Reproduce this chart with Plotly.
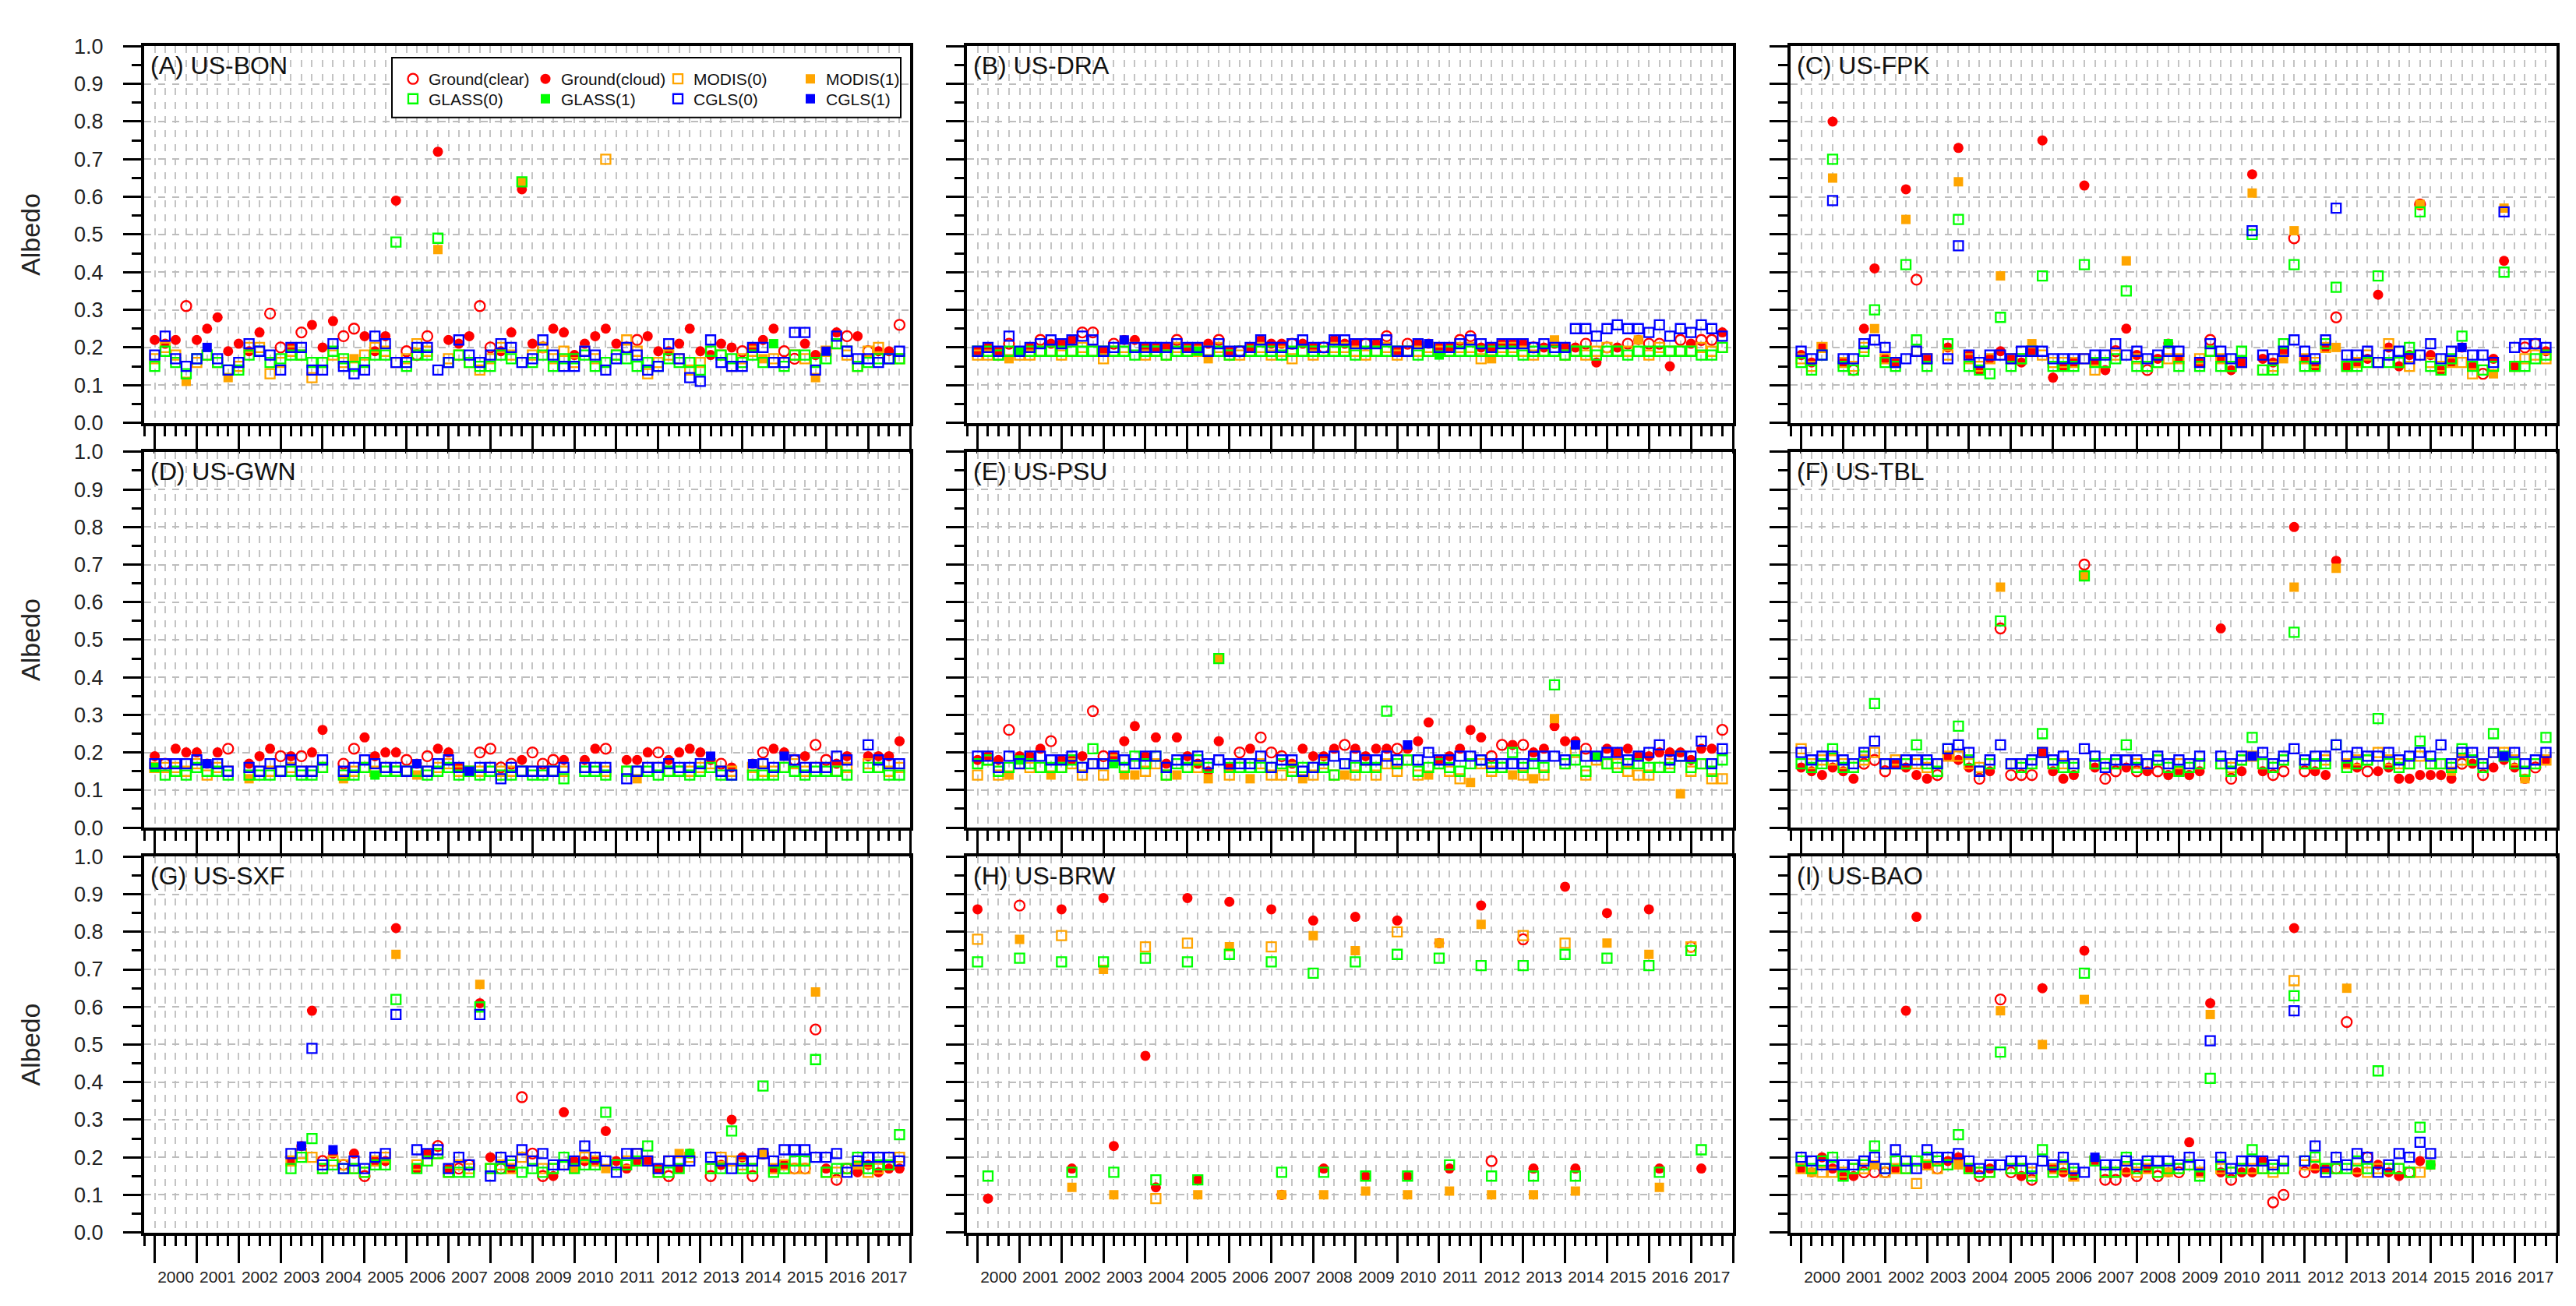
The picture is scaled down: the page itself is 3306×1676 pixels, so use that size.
import plotly.graph_objects as go
import pandas as pd

N = None
# ---- values are albedo x 100, one value per quarter (2000Q1 .. 2017Q4) ----
# index lists: *_clear = quarters where the ground value is clear-sky (others cloudy)
#              *_filled = quarters where the satellite value has QA flag 1 (others flag 0)

A_ground = [22,21,22,31,22,25,28,19,21,19, 24,29,20,20,24,26,20,27,23,25, 23,19,23,59,19,18,23,72,22,21,
            23,31,20,19,24,62,21,20,25,24, 18,21,23,25,21,20,22,23,19,19, 21,25,19,18,21,20,19,20,22,25,
            19,17,21,18,19,24,23,23,19,19, 19,26]
A_ground_clear = [3,11,12,14,18,19,24,25,26,31,32,37,45,46,56,60,61,66,68,71]
A_modis = [17,20,18,11,16,18,16,12,15,20, 20,13,16,19,18,12,16,18,16,17, 18,20,19,16,17,21,19,46,17,18,
           16,14,17,20,18,64,18,20,17,19, 16,19,17,70,18,22,19,13,16,18, 17,14,16,19,18,15,17,19,17,17,
           16,18,17,12,19,21,18,15,19,20, 17,17]
A_modis_filled = [3,7,19,27,35,58,63]
A_glass = [15,19,16,13,17,18,16,14,14,18, 19,16,17,18,18,16,16,19,17,15, 16,18,18,48,15,18,18,49,16,18,
           16,15,15,18,17,64,16,18,15,17, 17,18,15,16,18,17,15,16,15,17, 16,16,14,19,18,17,16,18,16,21,
           15,18,18,16,17,21,19,15,16,17, 17,17]
A_glass_filled = [59]
A_cgls = [18,23,17,15,17,20,17,14,16,21, 19,18,14,20,20,14,14,21,15,13, 14,23,21,16,16,20,20,14,16,22,
          18,16,18,21,20,16,17,22,18,15, 15,19,18,14,17,20,18,14,15,21, 17,12,11,22,16,15,15,20,20,16,
          16,24,24,14,19,23,19,17,17,16, 17,19]
A_cgls_filled = [5,64]

B_ground = [19,20,19,21,19,20,22,21,21,22, 24,24,19,21,22,22,20,20,20,22, 20,20,21,22,19,19,20,22,21,21,
            21,21,20,20,22,21,21,21,21,23, 19,21,21,21,20,20,22,23,20,20, 21,21,21,20,20,21,20,20,21,16,
            20,20,21,22,21,21,15,22,21,22, 22,24]
B_ground_clear = [3,6,10,11,13,19,23,25,30,33,37,39,41,46,47,53,58,60,62,64,65,67,69,70]
B_modis = [18,18,18,17,18,18,19,19,18,19, 20,19,17,19,20,20,18,19,18,20, 19,19,17,20,18,18,19,20,18,19,
           17,19,18,19,20,20,19,18,19,20, 18,19,19,20,19,19,20,20,17,17, 20,20,19,18,19,22,18,19,18,19,
           20,19,19,22,18,20,19,19,19,20, 19,20]
B_modis_filled = [3,22,49,55,63]
B_glass = [19,19,18,19,19,19,19,19,19,19, 19,19,19,19,19,18,19,19,18,19, 19,19,19,19,18,19,19,19,19,18,
           19,19,19,19,19,19,18,19,19,19, 19,19,18,19,18,19,19,19,19,19, 19,19,18,19,19,19,18,19,19,18,
           19,19,18,19,19,19,19,19,19,18, 18,20]
B_glass_filled = [4,21,44]
B_cgls = [19,20,19,23,19,20,21,22,21,22, 23,22,19,20,22,20,20,20,20,21, 20,20,19,21,19,19,20,22,20,20,
          21,22,20,20,22,22,21,21,21,22, 19,19,21,21,20,20,21,22,21,20, 21,21,21,20,21,20,20,25,25,23,
          25,26,25,25,24,26,23,25,24,26, 25,23]
B_cgls_filled = [14,43]

C_ground = [18,16,20,80,16,14,25,41,17,16, 62,38,17,N,20,73,18,14,17,19, 17,16,19,75,12,15,16,63,16,14,
            19,25,18,14,17,21,17,N,16,22, 17,14,16,66,17,16,19,49,17,15, 20,28,15,16,17,34,20,15,18,58,
            18,14,16,20,15,13,17,43,15,20, 21,19]
C_ground_clear = [5,11,30,33,39,47,51,59,65,69,70]
C_modis = [17,15,20,65,16,15,20,25,17,16, 54,19,17,N,18,64,17,15,17,39, 17,17,21,18,16,16,16,17,14,16,
           18,43,17,15,16,17,17,N,17,19, 17,15,16,61,14,15,17,51,17,16, 20,20,15,16,18,16,21,16,15,58,
           16,15,16,16,13,14,13,57,15,17, 18,17]
C_modis_filled = [3,7,10,15,19,22,31,43,46,47,51,59,66,67]
C_glass = [16,14,18,70,15,14,19,30,16,15, 42,22,15,N,21,54,15,14,13,28, 15,17,19,39,15,15,15,42,16,16,
           17,35,15,15,16,21,15,N,15,19, 15,15,19,50,14,14,21,42,15,15, 21,36,15,15,16,39,16,16,20,56,
           15,14,17,23,15,14,15,40,15,15, 17,18]
C_glass_filled = [35]
C_cgls = [19,17,18,59,17,17,21,22,20,16, 17,19,17,N,17,47,18,16,18,18, 17,19,19,19,17,17,17,17,18,18,
          21,18,19,17,18,19,19,N,16,21, 19,17,16,51,18,17,19,22,19,17, 22,57,18,18,19,16,18,19,17,18,
          21,17,19,20,18,18,16,56,20,21, 21,20]
C_cgls_filled = [63]

D_ground = [19,17,21,20,20,17,20,21,N,17, 19,21,19,19,19,20,26,N,17,21, 24,19,20,20,18,17,19,21,20,16,
            15,20,21,16,17,18,20,17,18,18, N,18,21,21,N,18,18,20,20,18, 20,21,20,18,17,16,N,17,20,21,
            20,18,19,22,18,17,19,N,19,19, 19,23]
D_ground_clear = [1,7,12,14,18,19,24,26,31,32,33,34,36,37,38,43,48,54,58,61,63,64]
D_modis = [16,16,16,15,17,14,16,15,N,13, 15,15,15,16,15,15,16,N,13,15, 16,15,16,15,15,14,15,16,17,15,
           15,15,16,15,15,15,15,15,15,15, N,16,16,15,N,15,13,16,16,15, 15,15,16,17,15,15,N,16,15,15,
           16,17,15,16,16,15,16,N,17,16, 15,16]
D_modis_filled = [9,18,25,46]
D_glass = [16,14,15,14,16,15,15,14,N,14, 14,14,15,15,14,14,16,N,14,14, 16,14,15,15,15,15,14,15,16,14,
           15,14,15,14,14,15,14,14,15,13, N,15,15,14,N,15,15,15,14,15, 15,14,15,16,14,14,N,14,14,14,
           16,15,14,15,15,15,14,N,16,16, 14,14]
D_glass_filled = [0,21]
D_cgls = [17,17,17,17,18,17,17,15,N,16, 15,17,15,18,15,15,18,N,15,16, 18,17,16,16,15,17,15,17,18,16,
          15,16,16,13,16,15,15,15,15,16, N,16,16,16,N,13,15,16,16,17, 16,16,17,19,15,14,N,17,17,16,
          19,18,16,16,16,19,18,N,22,18, 17,17]
D_cgls_filled = [5,25,30,53,57,60]

E_ground = [18,19,18,26,19,19,21,23,18,18, 19,31,19,19,23,27,19,24,17,24, 19,17,15,23,16,20,21,24,20,19,
            17,21,19,19,21,22,21,19,21,21, 21,21,23,28,18,19,21,26,24,19, 22,22,22,20,21,27,23,23,21,19,
            21,20,21,19,19,20,20,20,18,21, 21,26]
E_ground_clear = [3,7,11,12,25,27,28,29,35,40,49,50,52,58,71]
E_modis = [14,18,14,14,17,16,16,14,16,17, 14,17,14,18,14,14,15,17,14,14, 16,16,13,45,14,16,13,17,14,14,
           16,13,14,17,14,14,14,18,14,17, 15,18,14,14,17,15,13,12,17,15, 16,14,14,13,14,29,17,20,14,18,
           17,17,15,14,14,16,17,9,15,17, 13,13]
E_modis_filled = [3,7,14,15,19,22,23,26,31,35,43,47,51,53,55,67]
E_glass = [17,18,15,16,18,17,16,16,16,18, 16,21,17,17,16,19,17,19,14,17, 16,18,16,45,16,16,16,16,16,17,
           15,16,16,16,14,17,16,16,16,31, 17,18,15,16,17,16,15,17,18,16, 16,20,16,17,16,38,17,18,15,19,
           17,16,17,17,16,16,16,19,16,17, 15,18]
E_glass_filled = [4,13,59]
E_cgls = [19,19,16,19,17,19,19,18,18,19, 16,17,17,19,18,17,19,19,16,18, 18,19,17,18,17,17,17,19,16,18,
          18,15,16,18,19,17,19,18,18,19, 18,22,18,20,18,18,19,19,18,17, 17,17,17,19,19,19,18,22,19,19,
          20,20,18,19,20,22,18,19,19,23, 17,21]
E_cgls_filled = [41,57]

F_ground = [16,15,14,16,15,13,17,18,15,17, 16,14,13,14,19,18,16,13,15,53, 14,14,14,20,15,13,14,70,16,13,
            15,16,15,15,15,14,15,14,15,N, 53,13,15,19,15,14,15,80,15,15, 14,71,17,16,15,15,16,13,13,14,
            14,14,13,17,17,14,16,18,16,13, 16,18]
F_ground_clear = [6,7,8,13,17,19,20,21,22,27,29,30,32,34,41,45,46,48,54,63,65,70]
F_modis = [21,17,18,18,17,16,18,20,17,18, 17,17,16,17,19,19,17,16,17,64, 17,17,17,20,17,17,17,67,17,17,
           17,18,17,17,18,17,17,17,17,N, 17,16,18,19,17,16,18,64,17,17, 18,69,17,18,18,20,18,17,17,19,
           17,17,15,18,18,17,20,20,18,13, 17,18]
F_modis_filled = [19,27,47,51,62,69]
F_glass = [17,16,17,21,16,16,19,33,17,17, 17,22,17,15,21,27,18,15,17,55, 17,16,17,25,17,16,16,67,17,17,
           17,22,16,17,18,16,15,16,17,N, 17,15,18,24,17,16,18,52,17,17, 17,22,16,17,18,29,17,16,17,23,
           17,17,16,21,18,16,25,19,17,15, 17,24]
F_glass_filled = []
F_cgls = [20,18,19,19,18,17,20,23,17,17, 18,18,18,17,21,22,20,15,18,22, 17,17,18,20,18,19,17,21,19,16,
          18,18,18,17,19,17,18,17,19,N, 19,17,19,19,20,17,19,21,18,19, 19,22,19,20,19,19,20,18,19,20,
          19,22,17,20,20,17,20,19,20,17, 18,20]
F_cgls_filled = [43,67]

G_ground = [N,N,N,N,N,N,N,N,N,N, N,N,N,19,23,59,19,21,18,21, 15,19,19,81,N,17,21,23,17,17,
            18,61,20,17,17,36,21,15,15,32, 19,19,19,27,19,17,19,19,17,15, 17,21,N,15,18,30,20,15,21,17,
            18,17,17,54,17,14,17,16,18,16, 17,17]
G_ground_clear = [16,18,20,27,29,30,33,35,36,37,49,53,57,58,61,62,63,65,66]
G_modis = [N,N,N,N,N,N,N,N,N,N, N,N,N,19,21,20,17,19,18,17, 16,19,20,74,N,18,19,21,16,18,
           17,66,17,18,17,20,19,17,17,18, 17,20,19,17,18,19,21,19,16,19, 21,20,N,17,20,19,18,17,21,17,
           18,17,17,64,16,16,17,18,16,17, 20,20]
G_modis_filled = [23,31,40,43,50,58,63,67]
G_glass = [N,N,N,N,N,N,N,N,N,N, N,N,N,17,20,25,17,18,17,17, 16,18,18,62,N,17,19,21,16,16,
           16,60,17,17,18,16,17,16,17,20, 17,18,18,32,18,18,19,23,16,16, 17,21,N,17,17,27,17,17,39,16,
           17,19,19,46,16,17,17,20,17,18, 18,26]
G_glass_filled = [51]
G_cgls = [N,N,N,N,N,N,N,N,N,N, N,N,N,21,23,49,18,22,17,19, 17,20,21,58,N,22,21,22,17,20,
          18,58,15,20,19,22,19,21,18,18, 19,23,20,19,16,21,21,19,17,19, 19,19,N,20,19,17,19,19,21,19,
          22,22,22,20,20,21,16,19,20,20, 20,19]
G_cgls_filled = [14,17]

H_ground = [86,9,N,N,87,N,N,N,86,17, N,N,89,23,N,N,47,12,N,N, 89,14,N,N,88,N,N,N,86,10,
            N,N,83,17,N,N,84,15,N,N, 83,15,N,N,77,17,N,N,87,19, N,N,78,17,N,N,92,17,N,N,
            85,N,N,N,86,17,N,N,76,17, N,N]
H_ground_clear = [4,49,52,68]
H_modis = [78,N,N,N,78,N,N,N,79,12, N,N,70,10,N,N,76,9,N,N, 77,10,N,N,76,N,N,N,76,10,
           N,N,79,10,N,N,75,11,N,N, 80,10,N,N,77,11,N,N,82,10, N,N,79,10,N,N,77,11,N,N,
           77,N,N,N,74,12,N,N,76,N, N,N]
H_modis_filled = [4,9,12,13,21,24,29,32,33,36,37,41,44,45,48,49,53,57,60,64,65]
H_glass = [72,15,N,N,73,N,N,N,72,16, N,N,72,16,N,N,73,14,N,N, 72,14,N,N,74,N,N,N,72,16,
           N,N,69,16,N,N,72,15,N,N, 74,15,N,N,73,18,N,N,71,15, N,N,71,15,N,N,74,15,N,N,
           73,N,N,N,71,16,N,N,75,22, N,N]
H_glass_filled = []
H_cgls = []
H_cgls_filled = []

I_ground = [17,16,20,17,15,15,16,16,16,17, 59,84,18,17,19,20,17,15,17,62, 16,15,14,65,17,16,15,75,19,14,
            14,16,15,17,15,16,16,24,16,61, 16,14,16,16,19,8,10,81,16,17, 17,17,56,16,20,18,16,15,16,19,
            18,N,N,N,N,N,N,N,N,N, N,N]
I_ground_clear = [6,7,8,13,17,19,20,22,29,30,32,34,36,41,45,46,48,51,52,54,58]
I_modis = [17,16,16,16,16,17,17,18,16,17, 17,13,18,17,18,18,17,16,16,59, 17,17,16,50,17,17,15,62,19,16,
           16,17,16,17,16,16,17,18,16,58, 17,16,17,17,17,16,17,67,18,18, 17,17,65,17,16,17,17,17,16,16,
           18,N,N,N,N,N,N,N,N,N, N,N]
I_modis_filled = [1,7,15,19,23,27,35,39,52,60]
I_glass = [19,17,19,20,15,17,18,23,17,19, 17,19,20,19,18,26,17,16,16,48, 17,17,15,22,16,18,16,69,19,16,
           16,20,17,18,16,17,17,18,15,41, 18,16,17,22,17,17,17,63,19,20, 17,17,17,19,17,43,17,17,16,28,
           18,N,N,N,N,N,N,N,N,N, N,N]
I_glass_filled = [60]
I_cgls = [20,19,18,18,18,18,19,20,17,22, 19,17,22,20,20,21,19,17,18,18, 19,19,17,19,18,20,17,16,20,18,
          18,19,18,19,19,19,18,20,18,51, 20,17,19,19,19,18,19,59,19,23, 16,20,18,21,20,16,18,21,20,24,
          21,N,N,N,N,N,N,N,N,N, N,N]
I_cgls_filled = [28]

titles = ["(A) US-BON", "(B) US-DRA", "(C) US-FPK", "(D) US-GWN", "(E) US-PSU",
          "(F) US-TBL", "(G) US-SXF", "(H) US-BRW", "(I) US-BAO"]
series_names = ["Ground(clear)", "Ground(cloud)", "MODIS(0)", "MODIS(1)",
                "GLASS(0)", "GLASS(1)", "CGLS(0)", "CGLS(1)"]

panels = [
    (A_ground, A_ground_clear, A_modis, A_modis_filled, A_glass, A_glass_filled, A_cgls, A_cgls_filled),
    (B_ground, B_ground_clear, B_modis, B_modis_filled, B_glass, B_glass_filled, B_cgls, B_cgls_filled),
    (C_ground, C_ground_clear, C_modis, C_modis_filled, C_glass, C_glass_filled, C_cgls, C_cgls_filled),
    (D_ground, D_ground_clear, D_modis, D_modis_filled, D_glass, D_glass_filled, D_cgls, D_cgls_filled),
    (E_ground, E_ground_clear, E_modis, E_modis_filled, E_glass, E_glass_filled, E_cgls, E_cgls_filled),
    (F_ground, F_ground_clear, F_modis, F_modis_filled, F_glass, F_glass_filled, F_cgls, F_cgls_filled),
    (G_ground, G_ground_clear, G_modis, G_modis_filled, G_glass, G_glass_filled, G_cgls, G_cgls_filled),
    (H_ground, H_ground_clear, H_modis, H_modis_filled, H_glass, H_glass_filled, H_cgls, H_cgls_filled),
    (I_ground, I_ground_clear, I_modis, I_modis_filled, I_glass, I_glass_filled, I_cgls, I_cgls_filled),
]

quarters = pd.date_range("2000-01-01", periods=72, freq="QS")

RED, ORANGE, GREEN, BLUE = "#FF0000", "#FFA500", "#00FF00", "#0000FF"
styles = [("circle-open", RED), ("circle", RED), ("square-open", ORANGE), ("square", ORANGE),
          ("square-open", GREEN), ("square", GREEN), ("square-open", BLUE), ("square", BLUE)]

FONT = "Liberation Sans, Arial, Helvetica, sans-serif"
W, H = 3306, 1676
col_px = [(177, 1160), (1233, 2216), (2290, 3273)]
row_px = [(37, 529), (567, 1058), (1096, 1587)]

fig = go.Figure()


def split(vals, idx_set, take_in):
    out = []
    for i, v in enumerate(vals):
        if v is None:
            out.append(None)
        elif (i in idx_set) == take_in:
            out.append(v / 100.0)
        else:
            out.append(None)
    return out


for k, pdata in enumerate(panels):
    n = k + 1
    xa = "x" if n == 1 else f"x{n}"
    ya = "y" if n == 1 else f"y{n}"
    g, gc, m, mf, l, lf, c, cf = pdata
    ser = []
    ser.append(split(g, set(gc), True))    # clear
    ser.append(split(g, set(gc), False))   # cloud
    for vals, fl in ((m, mf), (l, lf), (c, cf)):
        if len(vals) == 0:
            ser.append(None)
            ser.append(None)
            continue
        ser.append(split(vals, set(fl), False))
        ser.append(split(vals, set(fl), True))
    for s, ys in enumerate(ser):
        if ys is None:
            continue
        sym, col = styles[s]
        is_open = sym.endswith("open")
        fig.add_trace(go.Scatter(
            x=quarters, y=ys, mode="markers", xaxis=xa, yaxis=ya,
            name=series_names[s], showlegend=(k == 0),
            legend="legend" if s < 4 else "legend2",
            marker=dict(symbol=sym, color=col, size=13 if s < 2 else 12,
                        line=dict(color=col, width=2.3 if is_open else 0)),
            hoverinfo="skip"))

grid_col = "#c4c4c4"
for k in range(9):
    n = k + 1
    r, cidx = divmod(k, 3)
    x0, x1 = col_px[cidx]
    y0, y1 = row_px[r]
    xkey = "xaxis" if n == 1 else f"xaxis{n}"
    ykey = "yaxis" if n == 1 else f"yaxis{n}"
    ya = "y" if n == 1 else f"y{n}"
    xa = "x" if n == 1 else f"x{n}"
    fig.layout[xkey] = dict(
        domain=[x0 / W, x1 / W], anchor=ya, type="date",
        range=["1999-10-01", "2018-01-01"], tick0="2000-01-01", dtick="M12",
        ticklabelmode="period", tickformat="%Y", ticks="outside", ticklen=35, tickwidth=3,
        tickcolor="black", showline=True, linewidth=4, linecolor="black", mirror=True,
        showgrid=True, gridcolor=grid_col, griddash="dash", gridwidth=1.5, zeroline=False,
        showticklabels=(r == 2),
        tickfont=dict(size=21, color="#222222", family=FONT),
        minor=dict(dtick="M3", tick0="2000-01-01", ticks="outside", ticklen=13, tickwidth=3,
                   tickcolor="black", showgrid=True, gridcolor=grid_col, griddash="dash",
                   gridwidth=1.5))
    ydict = dict(
        domain=[1 - y1 / H, 1 - y0 / H], anchor=xa, range=[0, 1], tick0=0, dtick=0.1,
        tickformat=".1f", ticks="outside", ticklen=23, tickwidth=3, tickcolor="black",
        showline=True, linewidth=4, linecolor="black", mirror=True,
        showgrid=True, gridcolor="#bdbdbd", griddash="dash", gridwidth=2, zeroline=False,
        showticklabels=(cidx == 0), ticklabelstandoff=20,
        tickfont=dict(size=27, color="#222222", family=FONT),
        minor=dict(dtick=0.05, tick0=0, ticks="outside", ticklen=12, tickwidth=3,
                   tickcolor="black", showgrid=False))
    if cidx == 0:
        ydict["title"] = dict(text="Albedo", font=dict(size=34, color="#222222", family=FONT),
                              standoff=34)
    fig.layout[ykey] = ydict
    fig.add_annotation(text=titles[k], xref=f"{xa} domain", yref=f"{ya} domain",
                       x=0.006, y=0.99, xanchor="left", yanchor="top", showarrow=False,
                       font=dict(size=32, color="#111111", family=FONT))

# legend frame
fig.add_shape(type="rect", xref="paper", yref="paper",
              x0=495 / W, x1=1148 / W, y0=1 - 130 / H, y1=1 - 52 / H,
              line=dict(color="black", width=2), fillcolor="white", layer="above")

leg_common = dict(orientation="h", xanchor="left", yanchor="middle", bgcolor="rgba(0,0,0,0)",
                  font=dict(size=21, color="#111111", family=FONT), entrywidth=125,
                  entrywidthmode="pixels", itemwidth=30, tracegroupgap=0, borderwidth=0)

fig.update_layout(
    width=W, height=H, margin=dict(l=0, r=0, t=0, b=0),
    paper_bgcolor="white", plot_bgcolor="white",
    font=dict(family=FONT, color="#222222"),
    legend=dict(x=502 / W, y=1 - 80 / H, **leg_common),
    legend2=dict(x=502 / W, y=1 - 106 / H, **leg_common),
)

fig.write_html("out.html")
